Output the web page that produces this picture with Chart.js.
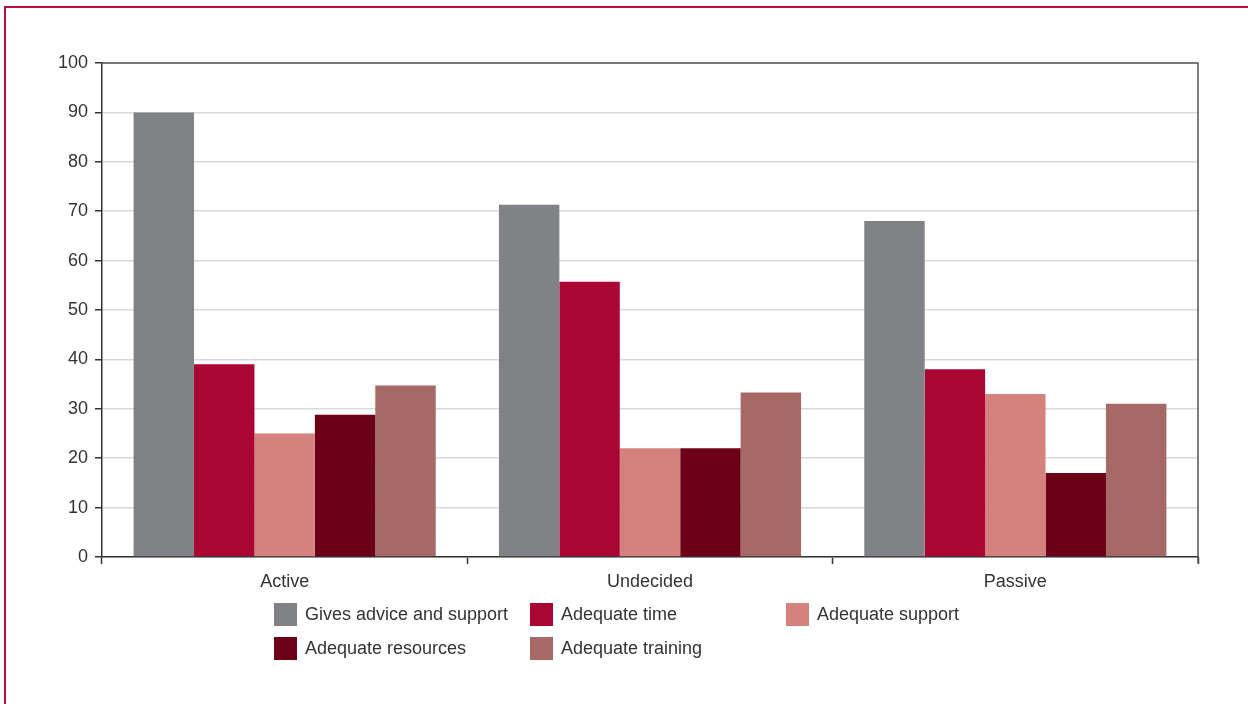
<!DOCTYPE html>
<html>
<head>
<meta charset="utf-8">
<script src="https://cdn.jsdelivr.net/npm/chart.js"></script>
<style>
  html, body { margin: 0; padding: 0; background: #fff; }
  #wrap { position: relative; width: 1248px; height: 704px; overflow: hidden; }
  #frame { position: absolute; left: 4px; top: 6px; width: 1300px; height: 800px;
           border-left: 2px solid #b3143f; border-top: 2px solid #b3143f; }
  #attitude-chart { position: absolute; left: 0; top: 0; }
  #legend { position: absolute; left: 274px; top: 603px; display: grid;
            grid-template-columns: 256px 256px 256px; row-gap: 11px;
            font-family: 'Liberation Sans', Arial, sans-serif; font-size: 18px; color: #333; }
  #legend .item { display: flex; align-items: center; height: 23px; white-space: nowrap; }
  #legend .box { width: 23px; height: 23px; margin-right: 8px; }
</style>
</head>
<body>
<div id="wrap">
  <div id="frame"></div>
  <canvas id="attitude-chart" width="1248" height="704"></canvas>
  <div id="legend"></div>
</div>
<script>
var groups = ['Active', 'Undecided', 'Passive'];
var seriesNames = ['Gives advice and support', 'Adequate time', 'Adequate support', 'Adequate resources', 'Adequate training'];
var seriesColors = ['#818286', '#aa0634', '#d5827f', '#6b0017', '#a66966'];
var advice = [90, 71.3, 68];
var time = [39, 55.7, 38];
var support = [25, 22, 33];
var resources = [28.8, 22, 17];
var training = [34.7, 33.3, 31];
var yTicks = [0, 10, 20, 30, 40, 50, 60, 70, 80, 90, 100];

var fontFamily = "'Liberation Sans', Arial, sans-serif";
var seriesValues = [advice, time, support, resources, training];

// dark frame on top and right of the plot area
var plotFrame = {
    id: 'plotFrame',
    afterDatasetsDraw: function(chart) {
        var a = chart.chartArea, c = chart.ctx;
        c.save();
        c.strokeStyle = '#555';
        c.lineWidth = 1.5;
        c.beginPath();
        c.moveTo(a.left, a.top);
        c.lineTo(a.right, a.top);
        c.lineTo(a.right, a.bottom + 6);
        c.stroke();
        c.restore();
    }
};

var ctx = document.getElementById('attitude-chart').getContext('2d');
var attitudeChart = new Chart(ctx, {
    type: 'bar',
    data: {
        labels: groups,
        datasets: seriesNames.map(function(name, i) {
            return {
                label: name,
                data: seriesValues[i],
                backgroundColor: seriesColors[i],
                borderWidth: 0,
                barPercentage: 1,
                categoryPercentage: 0.827
            };
        })
    },
    options: {
        responsive: false,
        animation: false,
        layout: { padding: { left: 40, right: 50, top: 63, bottom: 107 } },
        plugins: { legend: { display: false }, tooltip: { enabled: false } },
        scales: {
            x: {
                grid: { offset: true, drawOnChartArea: false, tickLength: 7, tickColor: '#333', tickWidth: 1.5 },
                border: { color: '#333', width: 1.5 },
                ticks: { color: '#333', font: { family: fontFamily, size: 18 }, padding: 7 },
                afterFit: function(scale) { scale.height = 40; }
            },
            y: {
                min: 0,
                max: 100,
                afterBuildTicks: function(scale) { scale.ticks = yTicks.map(function(v) { return { value: v }; }); },
                grid: { color: '#d9d9d9', lineWidth: 1.5, tickLength: 7, tickColor: '#333', tickWidth: 1.5 },
                border: { color: '#333', width: 1.5 },
                ticks: { color: '#333', font: { family: fontFamily, size: 18 }, padding: 7 },
                afterFit: function(scale) { scale.width = 62; }
            }
        }
    },
    plugins: [plotFrame]
});

// legend laid out in a fixed three-column grid
var legend = document.getElementById('legend');
seriesNames.forEach(function(name, i) {
    var item = document.createElement('div');
    item.className = 'item';
    var box = document.createElement('span');
    box.className = 'box';
    box.style.background = seriesColors[i];
    item.appendChild(box);
    item.appendChild(document.createTextNode(name));
    legend.appendChild(item);
});
</script>
</body>
</html>
